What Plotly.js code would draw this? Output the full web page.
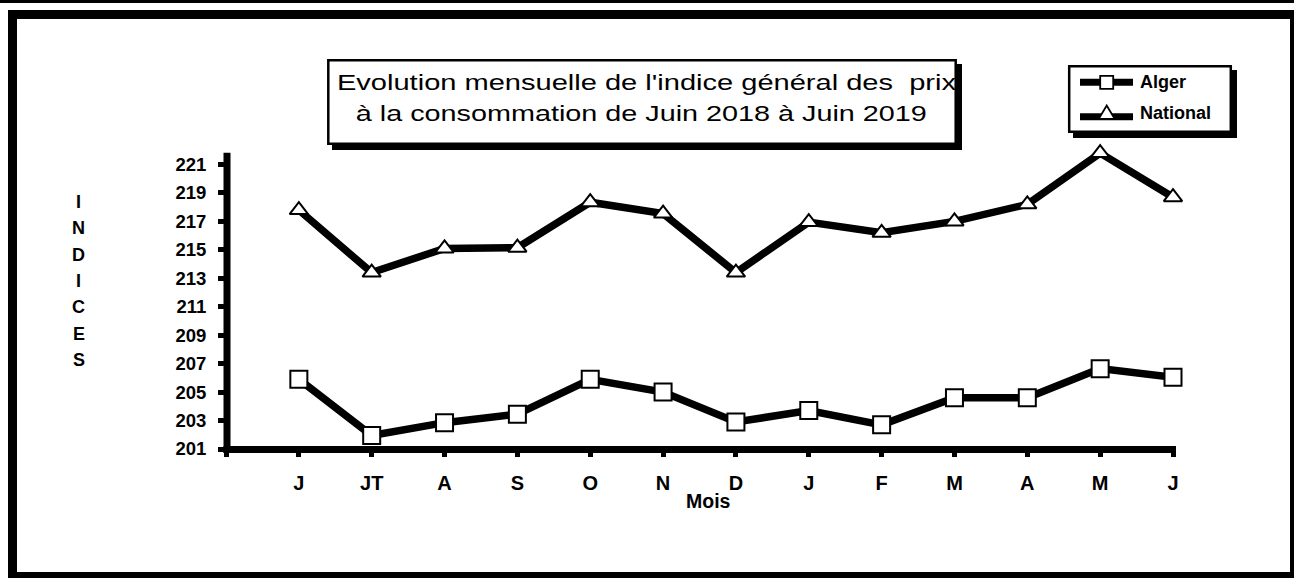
<!DOCTYPE html>
<html><head><meta charset="utf-8">
<script src="https://cdn.plot.ly/plotly-3.0.1.min.js"></script>
<style>html,body{margin:0;padding:0;background:#fff}#chart{width:1294px;height:578px}</style>
</head><body><div id="chart"></div>
<script>
// ---------- data ----------
const months = ['J','JT','A','S','O','N','D','J','F','M','A','M','J'];
const alger = [205.9, 201.95, 202.85, 203.45, 205.9, 205.0, 202.9, 203.7, 202.7, 204.6, 204.6, 206.65, 206.05];
const national = [217.8, 213.4, 215.1, 215.15, 218.35, 217.55, 213.4, 216.95, 216.2, 217.0, 218.2, 221.8, 218.7];
const yTicks = [201, 203, 205, 207, 209, 211, 213, 215, 217, 219, 221];
const seriesNames = ['Alger', 'National'];
const titleLines = ["Evolution mensuelle de l'indice général des\u00a0 prix", "à la consommation de Juin 2018 à Juin 2019"];
const yTitle = 'INDICES';
const xTitle = 'Mois';

// ---------- geometry (pixels) ----------
const W = 1294, H = 578;
const L = 226, R = 1173, T = 153, B = 449;
const px = x => (x - L) / (R - L);
const py = y => (B - y) / (B - T);
const FONT = 'Liberation Sans, Arial, sans-serif';

function rect(x0, y0, x1, y1, fill, lw, layer) {
  return {type: 'rect', xref: 'paper', yref: 'paper', x0: px(x0), x1: px(x1), y0: py(y0), y1: py(y1),
    fillcolor: fill, line: {color: 'black', width: lw || 0}, layer: layer || 'below'};
}
function seg(x0, y0, x1, y1, w) {
  return {type: 'line', xref: 'paper', yref: 'paper', x0: px(x0), x1: px(x1), y0: py(y0), y1: py(y1),
    line: {color: 'black', width: w}, layer: 'below'};
}
function tri(cx, cy, r) {
  const rt = r * 2 / Math.sqrt(3), r2 = r / 2, rs = r * Math.sqrt(2);
  const p = [[cx - rt, cy + r2], [cx + rt, cy + r2], [cx, cy - rs]];
  return {type: 'path', xref: 'paper', yref: 'paper',
    path: 'M' + p.map(q => px(q[0]) + ',' + py(q[1])).join('L') + 'Z',
    fillcolor: 'white', line: {color: 'black', width: 1.8}, layer: 'below'};
}

const shapes = [
  rect(0, 0, W, 3, 'black'),
  rect(8, 10, W, H, 'black'),
  rect(17, 19, 1290, 572, 'white'),
  // title box
  rect(332, 64, 962, 150, 'black'),
  rect(328.3, 60.3, 955.7, 143.7, 'white', 2.5),
  // legend box
  rect(1073, 70, 1237, 138, 'black'),
  rect(1069.2, 66.2, 1230.8, 131.8, 'white', 2.5),
  seg(1080, 82.3, 1133, 82.3, 7),
  seg(1080, 116.7, 1133, 116.7, 7),
  rect(1100.2, 75.8, 1113.2, 88.8, 'white', 1.8),
  tri(1106.7, 115.5, 7),
  // axes lines
  seg(227, 152.7, 227, 453, 7),
  seg(223.5, 449.5, 1176, 449.5, 7)
];

const annotations = [];
yTitle.split('').forEach((ch, i) => {
  annotations.push({xref: 'paper', yref: 'paper', x: px(78.5), y: py(201.7 + i * 26.4), text: ch,
    showarrow: false, xanchor: 'center', yanchor: 'middle',
    font: {family: FONT, size: 18, weight: 'bold', color: 'black'}});
});
annotations.push({xref: 'paper', yref: 'paper', x: px(708), y: py(500.5), text: xTitle, showarrow: false,
  xanchor: 'center', yanchor: 'middle', font: {family: FONT, size: 19.5, weight: 'bold', color: 'black'}});
const titleIdx = annotations.length;
annotations.push({xref: 'paper', yref: 'paper', x: px(646), y: py(82.7), text: titleLines[0], showarrow: false,
  xanchor: 'center', yanchor: 'middle', font: {family: FONT, size: 22, color: 'black'}});
annotations.push({xref: 'paper', yref: 'paper', x: px(641.5), y: py(114), text: titleLines[1], showarrow: false,
  xanchor: 'center', yanchor: 'middle', font: {family: FONT, size: 22, color: 'black'}});
annotations.push({xref: 'paper', yref: 'paper', x: px(1137.5), y: py(82.2), text: seriesNames[0], showarrow: false,
  xanchor: 'left', yanchor: 'middle', font: {family: FONT, size: 18, weight: 'bold', color: 'black'}});
annotations.push({xref: 'paper', yref: 'paper', x: px(1137.5), y: py(113.5), text: seriesNames[1], showarrow: false,
  xanchor: 'left', yanchor: 'middle', font: {family: FONT, size: 18, weight: 'bold', color: 'black'}});

const xs = months.map((m, i) => i);
const traces = [
  {x: xs, y: alger, name: seriesNames[0], type: 'scatter', mode: 'lines+markers', cliponaxis: false,
   line: {color: 'black', width: 7.5},
   marker: {symbol: 'square', size: 17, color: 'white', line: {color: 'black', width: 2}}},
  {x: xs, y: national, name: seriesNames[1], type: 'scatter', mode: 'lines+markers', cliponaxis: false,
   line: {color: 'black', width: 7.5},
   marker: {symbol: 'triangle-up', size: 16, color: 'white', line: {color: 'black', width: 2}}}
];

const layout = {
  width: W, height: H, autosize: false, showlegend: false,
  paper_bgcolor: 'white', plot_bgcolor: 'rgba(0,0,0,0)',
  margin: {l: L, r: W - R, t: T, b: H - B, pad: 0},
  font: {family: FONT, color: 'black'},
  xaxis: {range: [-1, 12], tickvals: [-1].concat(xs), ticktext: [''].concat(months),
    ticks: 'outside', ticklen: 7, tickwidth: 5, tickcolor: 'black', ticklabelstandoff: 9,
    showgrid: false, zeroline: false, showline: false, fixedrange: true,
    tickfont: {family: FONT, size: 20, weight: 'bold', color: 'black'}},
  yaxis: {range: [201, 201 + (B - T) / 14.225], tickvals: yTicks, ticktext: yTicks.map(String),
    ticks: 'outside', ticklen: 7, tickwidth: 5, tickcolor: 'black', ticklabelstandoff: 8,
    showgrid: false, zeroline: false, showline: false, fixedrange: true,
    tickfont: {family: FONT, size: 18.5, weight: 'bold', color: 'black'}},
  shapes: shapes,
  annotations: annotations
};

Plotly.newPlot('chart', traces, layout, {staticPlot: true, displayModeBar: false}).then(gd => {
  const widths = [619, 571];
  [0, 1].forEach(k => {
    const t = gd.querySelector('.annotation[data-index="' + (titleIdx + k) + '"] text.annotation-text');
    if (t) { t.setAttribute('textLength', widths[k]); t.setAttribute('lengthAdjust', 'spacingAndGlyphs'); }
  });
});
</script>
</body></html>
